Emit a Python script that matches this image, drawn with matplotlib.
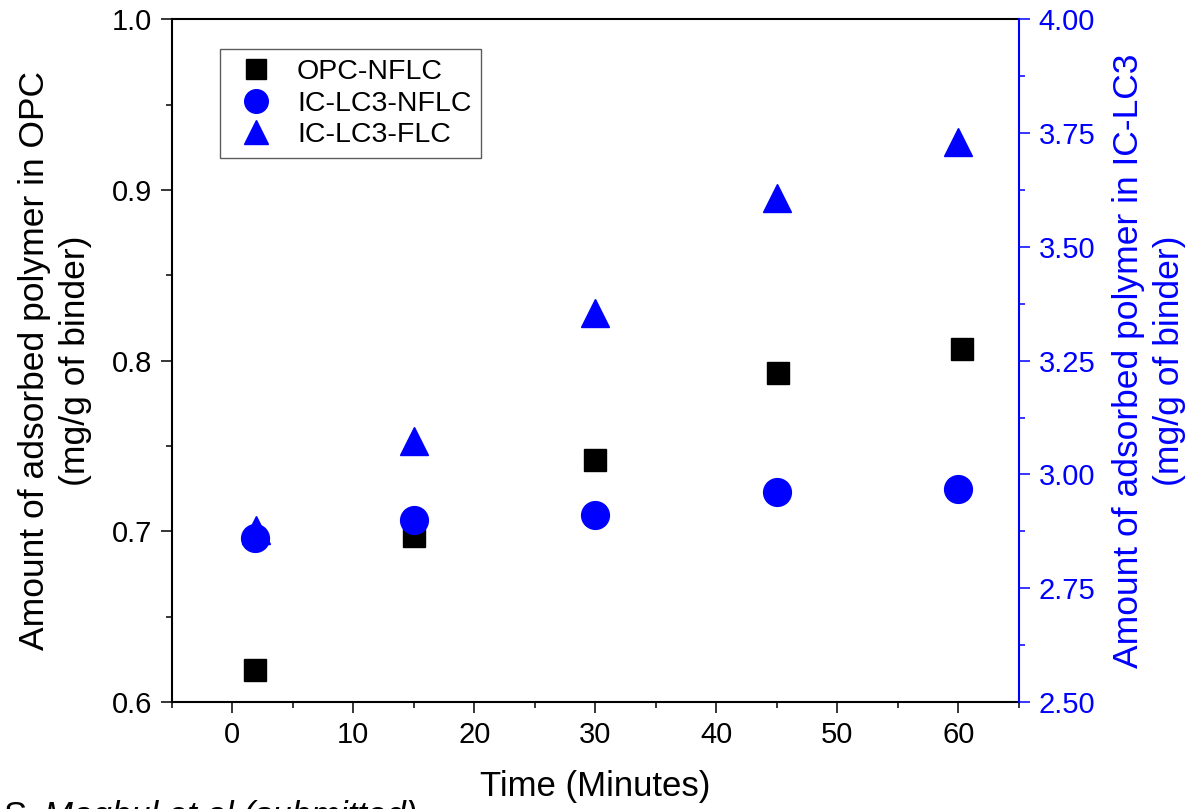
import matplotlib
matplotlib.use("Agg")
import matplotlib.pyplot as plt
from matplotlib.ticker import MultipleLocator, FormatStrFormatter

plt.rcParams['font.family'] = ['Liberation Sans', 'DejaVu Sans']

# data
time_opc = [1.9, 15, 30, 45.1, 60.3]
opc_nflc = [0.619, 0.697, 0.742, 0.793, 0.807]

time_lc3 = [1.9, 15, 30, 45, 60]
lc3_nflc = [2.860, 2.899, 2.911, 2.962, 2.968]
time_flc = [2, 15, 30, 45, 60]
lc3_flc = [2.877, 3.073, 3.355, 3.608, 3.731]

blue = '#0000ff'

fig = plt.figure(figsize=(11.95, 8.09), dpi=100)
ax = fig.add_axes([0.1437, 0.1323, 0.7090, 0.8436])
ax2 = ax.twinx()

h1, = ax.plot(time_opc, opc_nflc, 's', color='black', markersize=16.5,
              label='OPC-NFLC', linestyle='none')
h2, = ax2.plot(time_lc3, lc3_nflc, 'o', color=blue, markersize=20,
               label='IC-LC3-NFLC', linestyle='none')
h3, = ax2.plot(time_flc, lc3_flc, '^', color=blue, markersize=20.5,
               markeredgewidth=1, markeredgecolor=blue, label='IC-LC3-FLC',
               linestyle='none')

ax.set_xlim(-5, 65)
ax.set_ylim(0.6, 1.0)
ax2.set_ylim(2.5, 4.0)

ax.xaxis.set_major_locator(MultipleLocator(10))
ax.xaxis.set_minor_locator(MultipleLocator(5))
ax.yaxis.set_major_locator(MultipleLocator(0.1))
ax.yaxis.set_minor_locator(MultipleLocator(0.05))
ax.yaxis.set_major_formatter(FormatStrFormatter('%.1f'))
ax2.yaxis.set_major_locator(MultipleLocator(0.25))
ax2.yaxis.set_minor_locator(MultipleLocator(0.125))
ax2.yaxis.set_major_formatter(FormatStrFormatter('%.2f'))

for a in (ax, ax2):
    for s in a.spines.values():
        s.set_linewidth(1.5)
ax.spines['right'].set_visible(False)
ax2.spines['left'].set_visible(False)
ax2.spines['top'].set_visible(False)
ax2.spines['bottom'].set_visible(False)
ax2.spines['right'].set_color(blue)

ax.tick_params(which='major', direction='out', length=8, width=1.1,
               labelsize=21, pad=6)
ax.tick_params(which='minor', direction='out', length=4.5, width=1.1)
ax.tick_params(axis='x', top=False)
ax.tick_params(axis='y', right=False)
ax2.tick_params(which='major', direction='out', length=8, width=1.1,
                labelsize=21, pad=6, colors=blue)
ax2.tick_params(which='minor', direction='out', length=4.5, width=1.1,
                colors=blue)

ax.set_xlabel('Time (Minutes)', fontsize=25)
ax.xaxis.set_label_coords(0.5, -0.100)
ax.set_ylabel('Amount of adsorbed polymer in OPC\n(mg/g of binder)',
              fontsize=25.5, linespacing=1.3)
ax.yaxis.set_label_coords(-0.094, 0.5)
ax2.set_ylabel('Amount of adsorbed polymer in IC-LC3\n(mg/g of binder)',
               fontsize=25.5, color=blue, linespacing=1.3)
ax2.yaxis.set_label_coords(1.11, 0.5)

leg = ax2.legend(handles=[h1, h2, h3], loc='upper left',
                 bbox_to_anchor=(0.057, 0.957), borderaxespad=0,
                 fontsize=20.5, frameon=True, fancybox=False,
                 markerscale=0.85, handlelength=1.8, handletextpad=0.55,
                 labelspacing=0.2, borderpad=0.35)
leg.get_frame().set_edgecolor('#333333')
leg.get_frame().set_linewidth(1.0)

fig.text(3 / 1195, -0.021, 'S.', fontsize=25, va='baseline', ha='left')
fig.text(44 / 1195, -0.021, 'Maqbul et al (submitted)', fontsize=25,
         style='italic', va='baseline', ha='left')

fig.savefig('out.png', dpi=100)
